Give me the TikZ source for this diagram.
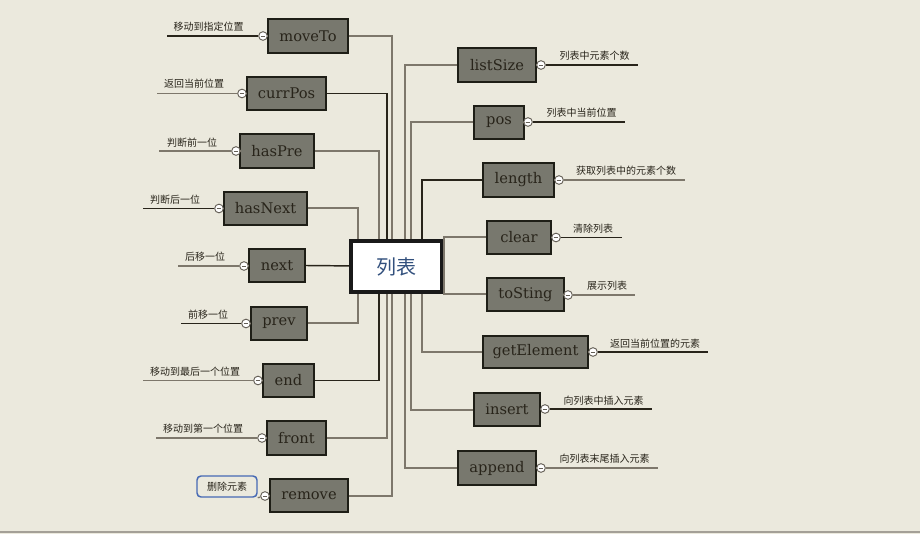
\documentclass[tikz,border=0pt]{standalone}
\usepackage{fontspec}
\newfontfamily\cjk{Noto Sans CJK SC}
\newfontfamily\lbl{DejaVu Serif}
\definecolor{bg}{RGB}{235,233,221}
\definecolor{boxfill}{RGB}{120,120,110}
\definecolor{boxline}{RGB}{30,30,22}
\definecolor{dk}{RGB}{40,36,26}
\definecolor{gr}{RGB}{125,119,107}
\definecolor{ttl}{RGB}{50,80,125}
\definecolor{selblue}{RGB}{70,105,180}
\begin{document}
\begin{tikzpicture}[x=0.75pt,y=-0.75pt,
  mbox/.style={draw=boxline,fill=boxfill,line width=1.6pt,inner sep=0pt,font=\lbl\fontsize{11}{13}\selectfont,text=dk},
  root/.style={draw=black!90,fill=white,line width=2.6pt,inner sep=0pt,font=\cjk\fontsize{15}{18}\selectfont,text=ttl},
  cd/.style={draw=dk,line width=1.1pt},
  cg/.style={draw=gr,line width=1.5pt},
  ann/.style={font=\cjk\fontsize{7.5}{9}\selectfont,text=dk,inner sep=0pt},
  knob/.style={circle,draw=gr!80!black,fill=white,line width=0.7pt,minimum size=6.5pt,inner sep=0pt,
    path picture={\draw[gr!80!black,line width=0.5pt] ([xshift=-1.8pt]path picture bounding box.center) -- ([xshift=1.8pt]path picture bounding box.center);}}
]
\newcommand\mbx[6]{\node[mbox,minimum width={(#4-#2)*0.75pt},minimum height={(#5-#3)*0.75pt}] (#1) at ({(#2+#4)/2},{(#3+#5)/2}) {#6};}
\newcommand\annL[7]{% name, circle x, y, line end x, text x, text y, text, (style)
  \node[knob] (#1k) at (#2,#3) {};
  \coordinate (#1e) at (#4,#3);
  \node[ann] (#1t) at (#5,#6) {#7};}
\useasboundingbox (0,0) rectangle (920,534);
\fill[bg] (0,0) rectangle (920,534);
\draw[gr!70,line width=1.5pt] (0,532) -- (920,532);

% left boxes
\mbx{moveTo}{268}{19}{348}{53}{moveTo}
\mbx{currPos}{247}{77}{326}{110}{currPos}
\mbx{hasPre}{240}{134}{314}{168}{hasPre}
\mbx{hasNext}{224}{192}{307}{225}{hasNext}
\mbx{next}{249}{249}{305}{282}{next}
\mbx{prev}{251}{307}{307}{340}{prev}
\mbx{end}{263}{364}{314}{397}{end}
\mbx{front}{267}{421}{326}{455}{front}
\mbx{remove}{270}{479}{348}{512}{remove}
% right boxes
\mbx{listSize}{458}{48}{536}{82}{listSize}
\mbx{pos}{474}{106}{524}{139}{pos}
\mbx{length}{483}{163}{554}{197}{length}
\mbx{clear}{487}{221}{551}{254}{clear}
\mbx{toSting}{487}{278}{564}{311}{toSting}
\mbx{getElement}{483}{336}{588}{368}{getElement}
\mbx{insert}{474}{393}{540}{426}{insert}
\mbx{append}{458}{451}{536}{485}{append}

% anchor coordinates on the central node edges
\coordinate (t392) at (392,266); \coordinate (t387) at (387,266);
\coordinate (t379) at (379,266); \coordinate (t358) at (358,266);
\coordinate (t405) at (405,266); \coordinate (t411) at (411,266);
\coordinate (t422) at (422,266);

% connectors (drawn before the root so it covers their ends)
\draw[cg] (moveTo.east) -| (t392);
\draw[cd] (currPos.east) -| (t387);
\draw[cg] (hasPre.east) -| (t379);
\draw[cg] (hasNext.east) -| (t358);
\draw[cd] (next.east) -- (t358);
\draw[cg] (prev.east) -| (t358);
\draw[cd] (end.east) -| (t379);
\draw[cg] (front.east) -| (t387);
\draw[cg] (remove.east) -| (t392);
\draw[cg] (listSize.west) -| (t405);
\draw[cg] (pos.west) -| (t411);
\draw[cd] (length.west) -| (t422);
\draw[cg] (getElement.west) -| (t422);
\draw[cg] (insert.west) -| (t411);
\draw[cg] (append.west) -| (t405);

\node[root,minimum width={91*0.75pt},minimum height={51*0.75pt}] (root) at (396.5,266.5) {列表};
\draw[cg] (clear.west) -| (root.east);
\draw[cg] (toSting.west) -| (root.east);

% left annotations
\annL{a1}{263}{36}{167}{208.5}{27}{移动到指定位置}
\draw[cd] (a1k) -- (a1e); \draw[gr,line width=1pt] (a1k) -- (moveTo.west);
\annL{a2}{242}{93.5}{157}{194}{84}{返回当前位置}
\draw[cg,line width=1.2pt] (a2k) -- (a2e); \draw[gr,line width=1pt] (a2k) -- (currPos.west);
\annL{a3}{236}{151}{159}{192}{143}{判断前一位}
\draw[cg,line width=1.2pt] (a3k) -- (a3e); \draw[gr,line width=1pt] (a3k) -- (hasPre.west);
\annL{a4}{219}{208.5}{143}{175}{200}{判断后一位}
\draw[cd] (a4k) -- (a4e); \draw[gr,line width=1pt] (a4k) -- (hasNext.west);
\annL{a5}{244}{266}{178}{205}{257}{后移一位}
\draw[cg,line width=1.2pt] (a5k) -- (a5e); \draw[gr,line width=1pt] (a5k) -- (next.west);
\annL{a6}{246}{323.5}{181}{208}{315}{前移一位}
\draw[cd] (a6k) -- (a6e); \draw[gr,line width=1pt] (a6k) -- (prev.west);
\annL{a7}{258}{380.5}{143}{195}{372}{移动到最后一个位置}
\draw[cg,line width=1.2pt] (a7k) -- (a7e); \draw[gr,line width=1pt] (a7k) -- (end.west);
\annL{a8}{262}{438}{156}{203}{429}{移动到第一个位置}
\draw[cg,line width=1.2pt] (a8k) -- (a8e); \draw[gr,line width=1pt] (a8k) -- (front.west);
% remove: selected note
\node[knob] (a9k) at (265,496) {};
\node[ann,draw=selblue,line width=1.1pt,rounded corners=3pt,minimum width={60*0.75pt},minimum height={21*0.75pt}] (a9t) at (227,486.5) {删除元素};
\draw[gr,line width=1pt] (a9k) -- (remove.west);
\draw[gr,line width=1pt] (a9k) -- (a9t.south east);

% right annotations
\annL{b1}{541}{65}{638}{594.5}{56}{列表中元素个数}
\draw[cd] (b1k) -- (b1e); \draw[gr,line width=1pt] (b1k) -- (listSize.east);
\annL{b2}{528}{122}{625}{581.5}{113}{列表中当前位置}
\draw[cd] (b2k) -- (b2e); \draw[gr,line width=1pt] (b2k) -- (pos.east);
\annL{b3}{559}{180}{685}{626}{171}{获取列表中的元素个数}
\draw[cg,line width=1.2pt] (b3k) -- (b3e); \draw[gr,line width=1pt] (b3k) -- (length.east);
\annL{b4}{556}{237.5}{622}{593}{229}{清除列表}
\draw[cd] (b4k) -- (b4e); \draw[gr,line width=1pt] (b4k) -- (clear.east);
\annL{b5}{568}{295}{635}{607}{286}{展示列表}
\draw[cg,line width=1.2pt] (b5k) -- (b5e); \draw[gr,line width=1pt] (b5k) -- (toSting.east);
\annL{b6}{593}{352}{708}{655}{344}{返回当前位置的元素}
\draw[cd] (b6k) -- (b6e); \draw[gr,line width=1pt] (b6k) -- (getElement.east);
\annL{b7}{545}{409}{652}{603.5}{401}{向列表中插入元素}
\draw[cd] (b7k) -- (b7e); \draw[gr,line width=1pt] (b7k) -- (insert.east);
\annL{b8}{541}{468}{658}{604.5}{459}{向列表末尾插入元素}
\draw[cg,line width=1.2pt] (b8k) -- (b8e); \draw[gr,line width=1pt] (b8k) -- (append.east);
\end{tikzpicture}
\end{document}
